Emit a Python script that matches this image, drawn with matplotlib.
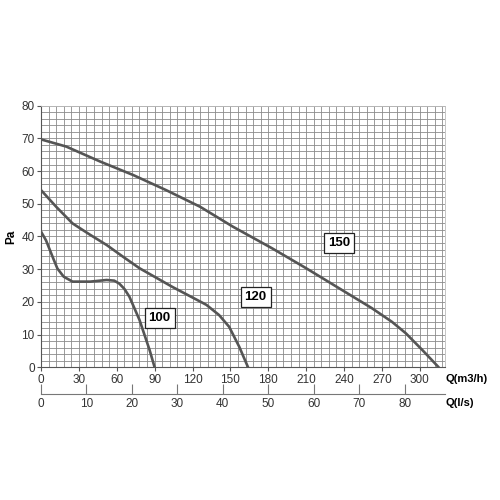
import matplotlib
matplotlib.use('Agg')
import matplotlib.pyplot as plt
import numpy as np

plt.rcParams['font.family'] = ['Liberation Sans', 'DejaVu Sans']

q150 = [0, 20, 47, 73, 99, 126, 152, 183, 210, 236, 262, 278, 289, 302, 315]
p150 = [69.7, 67.5, 62.9, 58.8, 54.2, 49.1, 43.0, 36.4, 30.3, 24.2, 18.1, 13.9, 10.4, 5.3, 0]
q120 = [0, 12, 25, 39, 52, 65, 78, 104, 131, 141, 149, 157, 164]
p120 = [54.2, 49.1, 44.0, 40.5, 37.4, 33.8, 30.3, 24.6, 19.1, 16.0, 12.4, 6.3, 0]
q100 = [0, 4, 7, 10, 13, 18, 25, 39, 52, 58, 62, 66, 70, 78, 86, 90]
p100 = [41.5, 38.8, 35.9, 33.0, 30.2, 27.7, 26.2, 26.2, 26.7, 26.5, 25.6, 24.0, 21.6, 14.5, 5.3, 0]

labels = ['100', '120', '150']
label_q = [94, 170, 236]
label_p = [15.2, 21.5, 38.0]

x_ticks = [0, 30, 60, 90, 120, 150, 180, 210, 240, 270, 300]
y_ticks = [0, 10, 20, 30, 40, 50, 60, 70, 80]
ls_ticks = [0, 10, 20, 30, 40, 50, 60, 70, 80]

fig = plt.figure(figsize=(5, 5), dpi=100)
ax = fig.add_axes([0.082, 0.2654, 0.808, 0.5232])
ax.set_xlim(0, 320)
ax.set_ylim(0, 80)
ax.set_xticks(np.arange(0, 321, 6), minor=True)
ax.set_yticks(np.arange(0, 81, 2), minor=True)
ax.set_xticks(x_ticks)
ax.set_yticks(y_ticks)
ax.grid(True, which='both', color='#8a8a8a', lw=0.6)
ax.set_axisbelow(True)
ax.tick_params(which='minor', length=0)
ax.tick_params(which='major', length=3, labelsize=8.5, labelcolor='#333333', color='#555555', pad=2)
ax.tick_params(axis='y', pad=1.5)
for s in ['top', 'right']:
    ax.spines[s].set_color('#bbbbbb')
    ax.spines[s].set_linewidth(0.6)
for s in ['left', 'bottom']:
    ax.spines[s].set_color('#555555')
    ax.spines[s].set_linewidth(0.8)

for q, p in [(q150, p150), (q120, p120), (q100, p100)]:
    ax.plot(q, p, color='#555555', lw=1.9, solid_capstyle='round', solid_joinstyle='round', zorder=3)

for t, q, p in zip(labels, label_q, label_p):
    ax.text(q, p, t, fontsize=9.5, fontweight='bold', ha='center', va='center', zorder=4,
            bbox=dict(boxstyle='square,pad=0.3', fc='white', ec='#222222', lw=0.9))

ax.set_ylabel('Pa', fontsize=8.5, fontweight='bold')
ax.yaxis.set_label_coords(-0.058, 0.5)

# secondary axis Q(l/s)
ax2 = fig.add_axes([0.082, 0.212, 0.808, 0.0001])
ax2.set_xlim(0, 320 / 3.6)
ax2.set_ylim(0, 1)
ax2.set_yticks([])
ax2.set_xticks(ls_ticks)
for s in ['top', 'right', 'left']:
    ax2.spines[s].set_visible(False)
ax2.spines['bottom'].set_color('#777777')
ax2.spines['bottom'].set_linewidth(0.8)
ax2.patch.set_visible(False)
ax2.tick_params(axis='x', direction='in', length=7, labelsize=8.5, labelcolor='#333333', color='#777777', pad=3)

fig.text(0.890, 0.242, 'Q(m3/h)', fontsize=8, fontweight='bold', ha='left', va='center')
fig.text(0.890, 0.194, 'Q(l/s)', fontsize=8, fontweight='bold', ha='left', va='center')

fig.savefig('out.png', dpi=100)
